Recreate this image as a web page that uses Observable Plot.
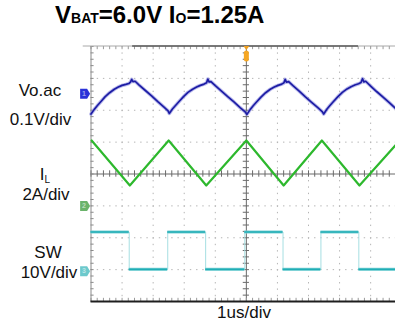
<!DOCTYPE html>
<html>
<head>
<meta charset="utf-8">
<script src="https://cdn.jsdelivr.net/npm/d3@7"></script>
<script src="https://cdn.jsdelivr.net/npm/@observablehq/plot@0.6"></script>
<style>
  html, body { margin: 0; padding: 0; background: #fff; }
  #chart { position: relative; width: 395px; height: 325px; overflow: hidden; }
  svg { font-family: "Liberation Sans", Arial, sans-serif; }
</style>
</head>
<body>
<div id="chart"></div>
<script>
// ---- data (time in us = divisions, amplitude in divisions from screen centre) ----
const voTime = [0.00,0.10,0.20,0.30,0.45,0.60,0.75,0.88,1.00,1.12,1.22,1.27,1.31,1.35,1.42,1.55,1.75,1.95,2.15,2.35,2.48,2.52,
  2.62,2.72,2.82,2.97,3.12,3.27,3.40,3.52,3.64,3.72,3.76,3.80,3.86,4.00,4.20,4.40,4.60,4.80,4.96,5.02,
  5.12,5.22,5.32,5.47,5.62,5.77,5.90,6.02,6.14,6.21,6.25,6.29,6.36,6.50,6.70,6.90,7.10,7.30,7.44,7.49,
  7.59,7.69,7.79,7.94,8.09,8.24,8.37,8.49,8.61,8.69,8.74,8.78,8.84,9.00,9.20,9.40,9.60,9.80];
const voValue = [1.88,2.02,2.14,2.25,2.42,2.55,2.66,2.73,2.78,2.81,2.84,2.88,2.97,2.90,2.91,2.79,2.62,2.45,2.27,2.10,1.98,1.90,
  2.04,2.15,2.26,2.42,2.56,2.66,2.73,2.78,2.82,2.86,2.98,2.89,2.90,2.77,2.60,2.43,2.26,2.08,1.95,1.87,
  2.02,2.14,2.25,2.41,2.55,2.66,2.73,2.78,2.82,2.86,2.97,2.88,2.90,2.77,2.60,2.42,2.25,2.08,1.96,1.88,
  2.03,2.15,2.26,2.42,2.56,2.67,2.74,2.79,2.83,2.87,2.99,2.89,2.91,2.76,2.58,2.41,2.24,2.06];
const ilTime  = [0.02,1.25,2.50,3.71,5.00,6.20,7.43,8.64,9.80];
const ilValue = [1.05,-0.36,1.05,-0.36,1.05,-0.36,1.05,-0.36,0.90];
const swEdges = [0,1.23,2.47,3.69,4.95,6.18,7.40,8.62,9.80];
const swHigh = -1.82, swLow = -2.99;
const channelNames = ["1","2","3"];
const channelLevels = [2.52,-1.0,-3.05];
const channelColors = ["#2a32d8","#6ab36a","#6cc9cc"];
const recordBar = [1.34, 8.61];
const triggerTime = 5;

const title = [["V",24],["BAT",14],["=6.0V I",24],["O",14],["=1.25A",24]];
const leftLabels = [
  {text:"Vo.ac", x:40, y:96},
  {text:"0.1V/div", x:40.5, y:125},
  {text:"2A/div", x:46, y:200},
  {text:"SW", x:48, y:258},
  {text:"10V/div", x:49, y:278}
];
const timeLabel = "1us/div";

// ---- tables ----
const vo = voTime.map((t,i)=>({t, v:voValue[i]}));
const il = ilTime.map((t,i)=>({t, v:ilValue[i]}));
const swPath = [];
const swSegs = [];
for (let i=0;i<swEdges.length-1;i++){
  const lvl = i%2===0 ? swHigh : swLow;
  swPath.push({t:swEdges[i], v:lvl},{t:swEdges[i+1], v:lvl});
  swSegs.push({x1:swEdges[i], x2:swEdges[i+1], v:lvl});
}
const channels = channelNames.map((n,i)=>({n, v:channelLevels[i], c:channelColors[i]}));

const xMinor = d3.range(0, 9.81, 0.2);
const yMinor = d3.range(-4, 4.001, 0.2);

const markerSym = { draw(ctx){ ctx.moveTo(-5,-5); ctx.lineTo(2,-5); ctx.lineTo(5,0); ctx.lineTo(2,5); ctx.lineTo(-5,5); ctx.closePath(); } };
const pillSym = { draw(ctx){ ctx.moveTo(-2.5,-3); ctx.arc(0,-3,2.5,Math.PI,0); ctx.lineTo(2.5,3); ctx.arc(0,3,2.5,0,Math.PI); ctx.closePath(); } };
const downTri = { draw(ctx){ ctx.moveTo(-3,-2); ctx.lineTo(3,-2); ctx.lineTo(0,2); ctx.closePath(); } };

const chart = Plot.plot({
  width: 395, height: 325,
  marginLeft: 90.5, marginRight: 0, marginTop: 46, marginBottom: 24,
  x: {domain:[0,9.8], axis:null},
  y: {domain:[-4,4], axis:null},
  style: {background:"#fff", overflow:"visible"},
  marks: [
    // dotted grid
    Plot.ruleX([1,2,3,4,6,7,8,9], {stroke:"#b4b4b4", strokeWidth:1, strokeDasharray:"1.4,4.98"}),
    Plot.ruleY([-3,-2,-1,1,2,3], {stroke:"#b4b4b4", strokeWidth:1, strokeDasharray:"1.4,4.81"}),
    // centre axes
    Plot.ruleX([5], {stroke:"#6a6a6a", strokeWidth:1}),
    Plot.ruleY([0], {stroke:"#6a6a6a", strokeWidth:1}),
    Plot.ruleX(xMinor, {x:d=>d, y1:-0.1, y2:0.1, stroke:"#6a6a6a"}),
    Plot.ruleY(yMinor, {y:d=>d, x1:4.9, x2:5.1, stroke:"#6a6a6a"}),
    // frame ticks
    Plot.ruleY(yMinor, {y:d=>d, x1:0, x2:0.1, stroke:"#8a8a8a"}),
    Plot.ruleX(xMinor, {x:d=>d, y1:4, y2:3.9, stroke:"#9a9a9a"}),
    Plot.ruleX(xMinor, {x:d=>d, y1:-4, y2:-3.9, stroke:"#9a9a9a"}),
    // frame
    Plot.ruleX([0], {stroke:"#8a8a8a", strokeWidth:1}),
    Plot.ruleY([4], {x1:-0.25, x2:9.8, stroke:"#a8a8a8", strokeWidth:1, dy:-0.5}),
    Plot.ruleY([4], {x1:recordBar[0], x2:recordBar[1], stroke:"#5a5a5a", strokeWidth:1.6, dy:-0.5}),
    Plot.ruleY([-4], {x1:0, x2:9.8, stroke:"#1e1e1e", strokeWidth:2}),
    // SW trace
    Plot.line(swPath, {x:"t", y:"v", stroke:"#a6dfe2", strokeWidth:1}),
    Plot.ruleY(swSegs, {x1:"x1", x2:"x2", y:"v", stroke:"#7fd2d6", strokeWidth:3.2}),
    Plot.ruleY(swSegs, {x1:"x1", x2:"x2", y:"v", stroke:"#1fadb5", strokeWidth:1.6}),
    // IL trace
    Plot.line(il, {x:"t", y:"v", stroke:"#2db82d", strokeWidth:2.2}),
    // Vo trace
    Plot.line(vo, {x:"t", y:"v", stroke:"#8c8ce0", strokeWidth:3.6, strokeOpacity:0.6}),
    Plot.line(vo, {x:"t", y:"v", stroke:"#1c1ca4", strokeWidth:1.7}),
    // channel markers
    Plot.dot(channels, {x:-0.19, y:"v", symbol:markerSym, fill:"c", stroke:"none"}),
    Plot.text(channels, {x:-0.23, y:"v", text:"n", fill:"#fff", fillOpacity:0.55, fontSize:7, fontWeight:"bold"}),
    // trigger marker
    Plot.dot([triggerTime], {x:d=>d, y:3.95, symbol:downTri, fill:"#f0a020"}),
    Plot.dot([triggerTime], {x:d=>d, y:3.7, symbol:pillSym, fill:"#f5a623"})
  ]
});
const svg = d3.select(chart);
// title
const tt = svg.append("text").attr("x",55).attr("y",23).attr("text-anchor","start")
  .attr("font-weight","bold").attr("fill","#000")
  .style("font-family","'Liberation Sans', Arial, sans-serif");
title.forEach(([s,f])=>tt.append("tspan").attr("font-size",f).text(s));
// left labels
leftLabels.forEach(l=>svg.append("text").attr("x",l.x).attr("y",l.y).attr("text-anchor","middle")
  .attr("font-size",17).attr("fill","#111").text(l.text));
const il1 = svg.append("text").attr("x",45).attr("y",180).attr("text-anchor","middle").attr("font-size",17).attr("fill","#111");
il1.append("tspan").text("I");
il1.append("tspan").attr("font-size",10).attr("dy",3).text("L");
// time label
svg.append("text").attr("x",244).attr("y",318).attr("text-anchor","middle").attr("font-size",17).attr("fill","#111").text(timeLabel);
document.getElementById("chart").appendChild(chart);
</script>
</body>
</html>
